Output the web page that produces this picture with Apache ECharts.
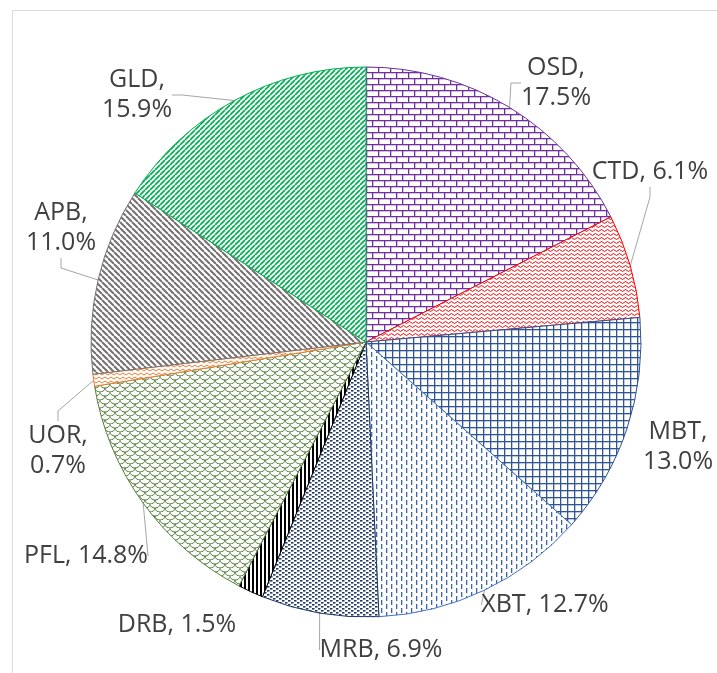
<!DOCTYPE html>
<html><head><meta charset="utf-8">
<script src="https://cdn.jsdelivr.net/npm/echarts@6/dist/echarts.min.js"></script>
<style>html,body{margin:0;padding:0;background:#fff}#c{width:717px;height:673px}</style>
</head><body><div id="c"></div>
<script>
// ---- data ----
const categories = ['OSD','CTD','MBT','XBT','MRB','DRB','PFL','UOR','APB','GLD'];
const shares = [17.5, 6.1, 13.0, 12.7, 6.9, 1.5, 14.8, 0.7, 11.0, 15.9];
const labelBreak = [true, false, true, false, false, false, false, true, true, true];

// ---- styles ----
const sliceColors = ['#7030A0','#FF0000','#2F5597','#4472C4','#203864','#000000','#548235','#ED7D31','#767171','#00B050'];
const labelPos = [[556,83],[650,172],[678,447],[545,605],[381,650],[177,625],[86,556],[58,451],[61,228],[137,95]];
const showLine = [true,true,false,true,true,false,true,true,true,true];

function tile(w,h,draw){
  const c=document.createElement('canvas');c.width=w;c.height=h;
  const g=c.getContext('2d');g.fillStyle='#fff';g.fillRect(0,0,w,h);draw(g,w,h);
  return {image:c,repeat:'repeat'};
}
function diag(color,s,lw,dir){
  return tile(s,s,(g)=>{g.strokeStyle=color;g.lineWidth=lw;g.beginPath();
    for(const x0 of [-s,0,s]){
      if(dir==='/'){g.moveTo(x0,s);g.lineTo(x0+s,0);}else{g.moveTo(x0,0);g.lineTo(x0+s,s);}
    }
    g.stroke();});
}
const patterns = [
  tile(12,12,(g)=>{g.fillStyle='#7030A0';g.fillRect(0,0,12,1.3);g.fillRect(0,6,12,1.3);g.fillRect(0,0,1.3,6);g.fillRect(6,6,1.3,6);}),
  tile(6,4,(g)=>{g.strokeStyle='#FF0000';g.lineWidth=1;g.beginPath();g.moveTo(0,2.5);g.quadraticCurveTo(1.5,0.5,3,2.5);g.quadraticCurveTo(4.5,4.5,6,2.5);g.stroke();}),
  tile(7,7,(g)=>{g.fillStyle='#2F5597';g.fillRect(0,0,7,1.3);g.fillRect(0,0,1.3,7);}),
  tile(10,8,(g)=>{g.fillStyle='#3A64B0';g.fillRect(1,0,1.3,5);g.fillRect(6,4,1.3,4);g.fillRect(6,0,1.3,1);}),
  tile(6,4,(g)=>{g.fillStyle='#203864';g.fillRect(0,0,2.5,1.6);g.fillRect(3,2,2.5,1.6);}),
  tile(4,2,(g)=>{g.fillStyle='#000';g.fillRect(0,0,2,2);}),
  tile(10,8,(g)=>{g.strokeStyle='#507A35';g.lineWidth=1;
    g.beginPath();g.ellipse(5,0,5,4,0,0,Math.PI);g.stroke();
    g.beginPath();g.ellipse(0,4,5,4,0,0,Math.PI);g.stroke();
    g.beginPath();g.ellipse(10,4,5,4,0,0,Math.PI);g.stroke();
    g.beginPath();g.ellipse(5,8,5,4,0,0,Math.PI);g.stroke();}),
  tile(6,4,(g)=>{g.strokeStyle='#ED7D31';g.lineWidth=1;g.beginPath();g.moveTo(0,3);g.lineTo(3,1);g.lineTo(6,3);g.stroke();}),
  diag('#767171',6,2,'\\'),
  diag('#00B050',5,1.7,'/')
];

const data = categories.map((name,i)=>({
  name, value: shares[i],
  itemStyle:{color:patterns[i],borderColor:sliceColors[i],borderWidth:1},
  labelLine:{show:showLine[i]}
}));

const chart = echarts.init(document.getElementById('c'),null,{renderer:'canvas'});
chart.setOption({
  animation:false,
  backgroundColor:'#fff',
  graphic:[{type:'rect',shape:{x:12.5,y:10.5,width:800,height:800},style:{fill:'none',stroke:'#d9d9d9',lineWidth:1},silent:true}],
  series:[{
    type:'pie',
    center:[366,342],
    radius:[0,275],
    startAngle:90,
    clockwise:true,
    avoidLabelOverlap:false,
    data,
    label:{
      show:true,position:'outside',
      fontFamily:'Open Sans',fontSize:25,lineHeight:30,color:'#404040',align:'center',
      formatter:(p)=>p.name+','+(labelBreak[p.dataIndex]?'\n':' ')+p.value.toFixed(1)+'%'
    },
    labelLine:{show:true,length:10,length2:10,lineStyle:{color:'#a6a6a6',width:1}},
    labelLayout:(params)=>{const p=labelPos[params.dataIndex];return {x:p[0],y:p[1],align:'center',verticalAlign:'middle'};}
  }]
});
</script></body></html>
